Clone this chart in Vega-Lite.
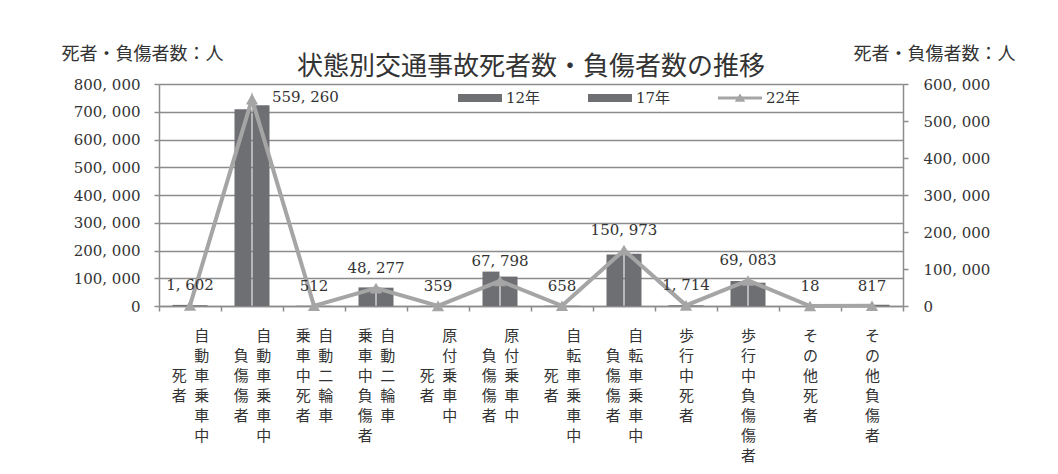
{
  "$schema": "https://vega.github.io/schema/vega-lite/v6.json",
  "autosize": "none",
  "width": 744,
  "height": 222,
  "padding": {"left": 159, "top": 84, "right": 155, "bottom": 168},
  "background": "white",
  "config": {
    "locale": {"number": {"decimal": ".", "thousands": ", ", "grouping": [3], "currency": ["", ""]}},
    "view": {"stroke": null},
    "font": "DejaVu Serif, Noto Sans CJK JP",
    "axis": {
      "domainColor": "#8c8c8c",
      "domainWidth": 1.5,
      "tickColor": "#8c8c8c",
      "tickWidth": 1.5,
      "tickSize": 5,
      "gridColor": "#8c8c8c",
      "gridWidth": 1.3,
      "labelColor": "#333333",
      "labelFont": "DejaVu Serif, Noto Sans CJK JP",
      "labelFontSize": 15,
      "titleColor": "#333333",
      "titleFont": "Noto Sans CJK JP",
      "titleFontSize": 18,
      "titleFontWeight": "normal"
    }
  },
  "title": {
    "text": "状態別交通事故死者数・負傷者数の推移",
    "font": "Noto Sans CJK JP",
    "fontSize": 26,
    "fontWeight": "normal",
    "color": "#333333",
    "anchor": "middle",
    "frame": "group",
    "baseline": "bottom",
    "offset": 0,
    "dy": 61
  },
  "datasets": {
    "bars": [
      {"cat": "自動車乗車中死者", "year": "12年", "value": 3953},
      {"cat": "自動車乗車中死者", "year": "17年", "value": 2809},
      {"cat": "自動車乗車中負傷者", "year": "12年", "value": 709000},
      {"cat": "自動車乗車中負傷者", "year": "17年", "value": 723000},
      {"cat": "自動二輪車乗車中死者", "year": "12年", "value": 856},
      {"cat": "自動二輪車乗車中死者", "year": "17年", "value": 706},
      {"cat": "自動二輪車乗車中負傷者", "year": "12年", "value": 67000},
      {"cat": "自動二輪車乗車中負傷者", "year": "17年", "value": 66000},
      {"cat": "原付乗車中死者", "year": "12年", "value": 616},
      {"cat": "原付乗車中死者", "year": "17年", "value": 479},
      {"cat": "原付乗車中負傷者", "year": "12年", "value": 124000},
      {"cat": "原付乗車中負傷者", "year": "17年", "value": 106000},
      {"cat": "自転車乗車中死者", "year": "12年", "value": 1010},
      {"cat": "自転車乗車中死者", "year": "17年", "value": 846},
      {"cat": "自転車乗車中負傷者", "year": "12年", "value": 186000},
      {"cat": "自転車乗車中負傷者", "year": "17年", "value": 188000},
      {"cat": "歩行中死者", "year": "12年", "value": 2523},
      {"cat": "歩行中死者", "year": "17年", "value": 2200},
      {"cat": "歩行中負傷者", "year": "12年", "value": 90000},
      {"cat": "歩行中負傷者", "year": "17年", "value": 84000},
      {"cat": "その他死者", "year": "12年", "value": 62},
      {"cat": "その他死者", "year": "17年", "value": 40},
      {"cat": "その他負傷者", "year": "12年", "value": 5100},
      {"cat": "その他負傷者", "year": "17年", "value": 4500}
    ],
    "line": [
      {"cat": "自動車乗車中死者", "value": 1602},
      {"cat": "自動車乗車中負傷者", "value": 559260},
      {"cat": "自動二輪車乗車中死者", "value": 512},
      {"cat": "自動二輪車乗車中負傷者", "value": 48277},
      {"cat": "原付乗車中死者", "value": 359},
      {"cat": "原付乗車中負傷者", "value": 67798},
      {"cat": "自転車乗車中死者", "value": 658},
      {"cat": "自転車乗車中負傷者", "value": 150973},
      {"cat": "歩行中死者", "value": 1714},
      {"cat": "歩行中負傷者", "value": 69083},
      {"cat": "その他死者", "value": 18},
      {"cat": "その他負傷者", "value": 817}
    ]
  },
  "encoding": {
    "x": {
      "field": "cat",
      "type": "nominal",
      "scale": {
        "domain": ["自動車乗車中死者", "自動車乗車中負傷者", "自動二輪車乗車中死者", "自動二輪車乗車中負傷者", "原付乗車中死者", "原付乗車中負傷者", "自転車乗車中死者", "自転車乗車中負傷者", "歩行中死者", "歩行中負傷者", "その他死者", "その他負傷者"],
        "paddingInner": 0,
        "paddingOuter": 0
      },
      "axis": {
        "title": null,
        "labelAngle": 0,
        "tickBand": "extent",
        "labelPadding": 17,
        "labelBaseline": "top",
        "labelLineHeight": 20,
        "labelFont": "Noto Sans CJK JP",
        "labelFontSize": 15,
        "labelOverlap": false,
        "labelLimit": 0,
        "labelExpr": "{'自動車乗車中死者': ['\u200b\u3000\u2002自', '\u200b\u3000\u2002動', '死\u2002車', '者\u2002乗', '\u200b\u3000\u2002車', '\u200b\u3000\u2002中'], '自動車乗車中負傷者': ['\u200b\u3000\u2002自', '負\u2002動', '傷\u2002車', '傷\u2002乗', '者\u2002車', '\u200b\u3000\u2002中'], '自動二輪車乗車中死者': ['乗\u2002自', '車\u2002動', '中\u2002二', '死\u2002輪', '者\u2002車'], '自動二輪車乗車中負傷者': ['乗\u2002自', '車\u2002動', '中\u2002二', '負\u2002輪', '傷\u2002車', '者\u2002\u3000\u200b'], '原付乗車中死者': ['\u200b\u3000\u2002原', '\u200b\u3000\u2002付', '死\u2002乗', '者\u2002車', '\u200b\u3000\u2002中'], '原付乗車中負傷者': ['\u200b\u3000\u2002原', '負\u2002付', '傷\u2002乗', '傷\u2002車', '者\u2002中'], '自転車乗車中死者': ['\u200b\u3000\u2002自', '\u200b\u3000\u2002転', '死\u2002車', '者\u2002乗', '\u200b\u3000\u2002車', '\u200b\u3000\u2002中'], '自転車乗車中負傷者': ['\u200b\u3000\u2002自', '負\u2002転', '傷\u2002車', '傷\u2002乗', '者\u2002車', '\u200b\u3000\u2002中'], '歩行中死者': ['歩', '行', '中', '死', '者'], '歩行中負傷者': ['歩', '行', '中', '負', '傷', '傷', '者'], 'その他死者': ['そ', 'の', '他', '死', '者'], 'その他負傷者': ['そ', 'の', '他', '負', '傷', '者']}[datum.value]"
      }
    }
  },
  "layer": [
    {
      "data": {"name": "bars"},
      "mark": {"type": "bar", "color": "#6e6f72"},
      "encoding": {
        "xOffset": {"field": "year", "type": "nominal", "scale": {"paddingInner": 0.056, "paddingOuter": 0.75}},
        "y": {
          "field": "value",
          "type": "quantitative",
          "scale": {"domain": [0, 800000], "nice": false, "zero": true},
          "axis": {
            "values": [0, 100000, 200000, 300000, 400000, 500000, 600000, 700000, 800000],
            "format": ",d",
            "grid": true,
            "labelPadding": 14,
            "title": "死者・負傷者数：人",
            "titleAngle": 0,
            "titleAlign": "center",
            "titleBaseline": "middle",
            "titleX": -17,
            "titleY": -30
          }
        },
        "color": {
          "field": "year",
          "type": "nominal",
          "scale": {"domain": ["12年", "17年", "22年"], "range": ["#6e6f72", "#6e6f72", "#a5a5a5"]},
          "legend": {
            "orient": "none",
            "legendX": 299,
            "legendY": -8,
            "direction": "horizontal",
            "title": null,
            "padding": 0,
            "symbolSize": 1936,
            "labelOffset": 4,
            "columnPadding": 47,
            "labelFont": "DejaVu Serif, Noto Sans CJK JP",
            "labelFontSize": 15,
            "labelColor": "#333333",
            "symbolStrokeWidth": 0,
            "encode": {
              "symbols": {
                "update": {
                  "shape": {"signal": "datum.value === '22年' ? 'M-1,-0.07H1V0.07H-1Z M-0.24,0.17L0,-0.21L0.24,0.17Z' : 'M-1,-0.18H1V0.18H-1Z'"},
                  "fill": {"signal": "datum.value === '22年' ? '#a5a5a5' : '#6e6f72'"},
                  "stroke": {"value": "transparent"},
                  "opacity": {"value": 1}
                }
              }
            }
          }
        }
      }
    },
    {
      "data": {"name": "line"},
      "encoding": {
        "y": {
          "field": "value",
          "type": "quantitative",
          "scale": {"domain": [0, 600000], "nice": false, "zero": true},
          "axis": {
            "orient": "right",
            "values": [0, 100000, 200000, 300000, 400000, 500000, 600000],
            "format": ",d",
            "grid": false,
            "labelPadding": 15,
            "title": "死者・負傷者数：人",
            "titleAngle": 0,
            "titleAlign": "center",
            "titleBaseline": "middle",
            "titleX": 31,
            "titleY": -30
          }
        }
      },
      "layer": [
        {
          "mark": {"type": "line", "color": "#a5a5a5", "strokeWidth": 4, "point": {"shape": "triangle-up", "size": 150, "filled": true, "color": "#a5a5a5", "opacity": 1}}
        },
        {
          "transform": [{"filter": "datum.cat !== '自動車乗車中負傷者'"}],
          "mark": {"type": "text", "font": "DejaVu Serif", "fontSize": 15, "color": "#333333", "align": "center", "baseline": "middle", "dy": -20},
          "encoding": {"text": {"field": "value", "type": "quantitative", "format": ",d"}}
        },
        {
          "transform": [{"filter": "datum.cat === '自動車乗車中負傷者'"}],
          "mark": {"type": "text", "font": "DejaVu Serif", "fontSize": 15, "color": "#333333", "align": "left", "baseline": "middle", "dx": 20, "dy": -2},
          "encoding": {"text": {"field": "value", "type": "quantitative", "format": ",d"}}
        }
      ]
    }
  ],
  "resolve": {"scale": {"y": "independent"}}
}
